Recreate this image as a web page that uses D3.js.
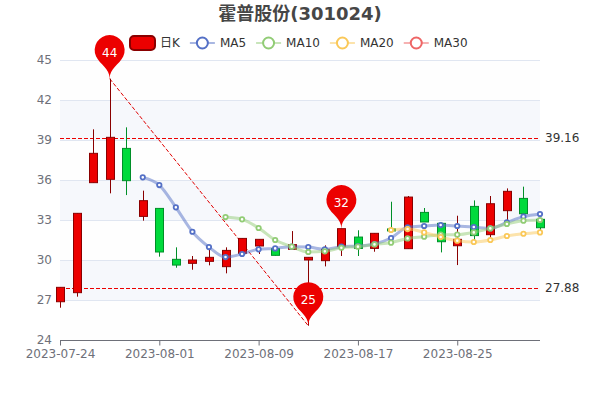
<!DOCTYPE html>
<html>
<head>
<meta charset="utf-8">
<script src="https://cdn.jsdelivr.net/npm/d3@7"></script>
<style>
  html, body { margin: 0; padding: 0; background: #fff; }
  text { font-family: "DejaVu Sans", "Noto Sans CJK SC", sans-serif; }
</style>
</head>
<body>
<div id="chart"></div>
<script>
// data
var dates = ["2023-07-24","2023-07-25","2023-07-26","2023-07-27","2023-07-28","2023-07-31",
  "2023-08-01","2023-08-02","2023-08-03","2023-08-04","2023-08-07","2023-08-08",
  "2023-08-09","2023-08-10","2023-08-11","2023-08-14","2023-08-15","2023-08-16",
  "2023-08-17","2023-08-18","2023-08-21","2023-08-22","2023-08-23","2023-08-24",
  "2023-08-25","2023-08-28","2023-08-29","2023-08-30","2023-08-31","2023-09-01"];
var opens  = [26.87,27.55,35.8,36.05,38.37,33.27,33.87,30.05,29.75,29.9,29.5,30.5,31.05,30.85,30.8,30.0,29.95,31.0,31.72,30.87,32.33,30.85,33.57,32.75,31.07,34.02,31.9,33.7,34.62,33.05];
var closes = [27.95,33.5,38.0,39.2,35.95,34.45,30.6,29.62,30.0,30.2,30.72,31.62,31.55,30.35,31.15,30.2,30.8,32.35,30.87,32.0,32.18,34.72,32.85,31.37,31.55,31.83,34.22,35.15,33.47,32.42];
var lows   = [26.42,27.25,35.8,35.0,34.87,32.95,30.25,29.42,29.27,29.6,29.0,30.5,30.45,30.33,30.8,25.07,29.52,30.3,30.3,30.62,32.15,30.85,32.85,30.57,29.62,31.5,31.62,32.85,33.47,32.25];
var highs  = [27.95,33.5,39.8,43.6,39.95,35.2,33.87,30.95,30.3,30.75,30.95,31.62,31.55,31.0,32.17,30.2,31.1,32.35,32.23,32.0,34.37,34.8,33.9,32.8,33.32,34.47,34.8,35.37,35.5,33.05];

var ma5  = [null,null,null,null,null,36.2,35.62,33.95,32.12,30.97,30.22,30.45,30.8,30.87,31.0,30.97,30.8,31.0,31.05,31.2,31.65,32.45,32.55,32.62,32.55,32.47,32.37,32.82,33.25,33.45];
var ma10 = [null,null,null,null,null,null,null,null,null,null,33.22,33.05,32.4,31.5,31.0,30.6,30.65,30.92,31.0,31.17,31.3,31.62,31.75,31.9,31.9,32.07,32.37,32.7,32.95,33.0];
var ma20 = [null,null,null,null,null,null,null,null,null,null,null,null,null,null,null,null,null,null,null,null,32.25,32.32,32.07,31.72,31.45,31.35,31.5,31.8,31.97,32.07];
var ma30 = dates.map(function() { return null; });

var yTicks = [24,27,30,33,36,39,42,45];
var xTicks = ["2023-07-24","2023-08-01","2023-08-09","2023-08-17","2023-08-25"];
var refLevels = [39.16,27.88];
var pinDates = ["2023-07-27","2023-08-16","2023-08-14"];
var pinValues = [43.6,32.35,25.07];
var pinLabels = ["44","32","25"];
var legendNames = ["日K","MA5","MA10","MA20","MA30"];
var maColors = ["#5470c6","#91cc75","#fac858","#ee6666"];

var width = 600, height = 400;
var margin = {top: 60, right: 60, bottom: 60, left: 60};

var svg = d3.select("#chart").append("svg")
  .attr("width", width)
  .attr("height", height)
  .style("display", "block");

var x = d3.scalePoint().domain(dates).range([margin.left, width - margin.right]);
var y = d3.scaleLinear().domain([24, 45]).range([height - margin.bottom, margin.top]);

// split areas
var bandColors = ["rgba(250,250,250,0.2)", "rgba(210,219,238,0.2)"];
svg.append("g").selectAll("rect")
  .data(yTicks.slice(0, -1))
  .enter().append("rect")
    .attr("x", margin.left)
    .attr("y", function(d, i) { return y(yTicks[i + 1]); })
    .attr("width", width - margin.left - margin.right)
    .attr("height", function(d, i) { return y(d) - y(yTicks[i + 1]); })
    .attr("fill", function(d, i) { return bandColors[i % 2]; });

// split lines
svg.append("g").selectAll("line")
  .data(yTicks.slice(1))
  .enter().append("line")
    .attr("x1", margin.left)
    .attr("x2", width - margin.right)
    .attr("y1", function(d) { return Math.round(y(d)) + 0.5; })
    .attr("y2", function(d) { return Math.round(y(d)) + 0.5; })
    .attr("stroke", "#E0E6F1");

// y axis labels only
var yAxis = svg.append("g")
  .attr("transform", "translate(" + margin.left + ",0)")
  .call(d3.axisLeft(y).tickValues(yTicks).tickSize(0).tickPadding(8));
yAxis.select(".domain").remove();
yAxis.selectAll("text").attr("fill", "#6E7079").style("font-size", "12px");

// x axis
var xAxis = svg.append("g")
  .attr("transform", "translate(0," + (height - margin.bottom + 0.5) + ")")
  .call(d3.axisBottom(x).tickValues(xTicks).tickSize(5).tickPadding(4));
xAxis.select(".domain").attr("stroke", "#6E7079").attr("d", "M" + margin.left + ",0H" + (width - margin.right));
xAxis.selectAll("line").attr("stroke", "#6E7079");
xAxis.selectAll("text").attr("fill", "#6E7079").style("font-size", "12px");

// horizontal reference lines sit behind the candles
svg.append("g").selectAll("line")
  .data(refLevels)
  .enter().append("line")
    .attr("x1", margin.left)
    .attr("x2", width - margin.right)
    .attr("y1", function(d) { return Math.round(y(d)) + 0.5; })
    .attr("y2", function(d) { return Math.round(y(d)) + 0.5; })
    .attr("stroke", "#ec0000")
    .attr("stroke-dasharray", "4,2");

svg.append("g").selectAll("text")
  .data(refLevels)
  .enter().append("text")
    .attr("x", width - margin.right + 5)
    .attr("y", function(d) { return y(d); })
    .attr("dy", "0.35em")
    .attr("fill", "#333")
    .style("font-size", "12px")
    .text(function(d) { return d.toFixed(2); });

// line between highest and lowest
svg.append("line")
  .attr("x1", x(pinDates[0]))
  .attr("y1", y(pinValues[0]))
  .attr("x2", x(pinDates[2]))
  .attr("y2", y(pinValues[2]))
  .attr("stroke", "#e00000")
  .attr("stroke-dasharray", "4,2");

// candles
var candleWidth = 8;
var candles = svg.append("g").selectAll("g")
  .data(dates)
  .enter().append("g");

function isUp(i) { return closes[i] > opens[i]; }

candles.append("line")
  .attr("x1", function(d) { return Math.round(x(d)) + 0.5; })
  .attr("x2", function(d) { return Math.round(x(d)) + 0.5; })
  .attr("y1", function(d, i) { return y(highs[i]); })
  .attr("y2", function(d, i) { return y(lows[i]); })
  .attr("stroke", function(d, i) { return isUp(i) ? "#8A0000" : "#008F28"; });

candles.append("rect")
  .attr("x", function(d) { return Math.round(x(d)) + 0.5 - candleWidth / 2; })
  .attr("y", function(d, i) { return y(Math.max(opens[i], closes[i])); })
  .attr("width", candleWidth)
  .attr("height", function(d, i) { return Math.abs(y(opens[i]) - y(closes[i])); })
  .attr("fill", function(d, i) { return isUp(i) ? "#ec0000" : "#00da3c"; })
  .attr("stroke", function(d, i) { return isUp(i) ? "#8A0000" : "#008F28"; });

// moving averages
var line = d3.line()
  .defined(function(d) { return d !== null; })
  .x(function(d, i) { return x(dates[i]); })
  .y(function(d) { return y(d); })
  .curve(d3.curveMonotoneX);

[ma5, ma10, ma20, ma30].forEach(function(series, s) {
  svg.append("path")
    .attr("d", line(series))
    .attr("fill", "none")
    .attr("stroke", maColors[s])
    .attr("stroke-width", 3)
    .attr("stroke-opacity", 0.5);
  var points = dates.filter(function(d, i) { return series[i] !== null; });
  svg.append("g").selectAll("circle")
    .data(points)
    .enter().append("circle")
      .attr("cx", function(d) { return x(d); })
      .attr("cy", function(d) { return y(series[dates.indexOf(d)]); })
      .attr("r", 2.2)
      .attr("fill", "#fff")
      .attr("stroke", maColors[s])
      .attr("stroke-width", 1.8);
});

// echarts style pin, tip sits on the point
function pinPath(px, py) {
  var size = 50, w = size / 5 * 3, r = w / 2;
  var dy = r * r / (size - r);
  var cy = py - size + r + dy;
  var angle = Math.asin(dy / r);
  var dx = Math.cos(angle) * r;
  var tanX = Math.sin(angle), tanY = Math.cos(angle);
  var cp1 = r * 0.6, cp2 = r * 0.7;
  var p = d3.path();
  p.moveTo(px - dx, cy + dy);
  p.arc(px, cy, r, Math.PI - angle, Math.PI * 2 + angle);
  p.bezierCurveTo(px + dx - tanX * cp1, cy + dy + tanY * cp1, px, py - cp2, px, py);
  p.bezierCurveTo(px, py - cp2, px - dx + tanX * cp1, cy + dy + tanY * cp1, px - dx, cy + dy);
  p.closePath();
  return p.toString();
}

var pins = svg.append("g").selectAll("g")
  .data(pinLabels)
  .enter().append("g");

pins.append("path")
  .attr("d", function(d, i) { return pinPath(x(pinDates[i]), y(pinValues[i])); })
  .attr("fill", "#ec0000");

pins.append("text")
  .attr("x", function(d, i) { return x(pinDates[i]); })
  .attr("y", function(d, i) { return y(pinValues[i]) - 26; })
  .attr("dy", "0.35em")
  .attr("text-anchor", "middle")
  .attr("fill", "#fff")
  .style("font-size", "12px")
  .text(function(d) { return d; });

// title
svg.append("text")
  .attr("x", width / 2)
  .attr("y", 14)
  .attr("dy", "0.35em")
  .attr("text-anchor", "middle")
  .attr("fill", "#464646")
  .style("font-size", "18px")
  .style("font-weight", "bold")
  .text("霍普股份(301024)");

// legend, laid out left to right
var legendX = 130, legendY = 43;
legendNames.forEach(function(name, i) {
  var g = svg.append("g").attr("transform", "translate(" + legendX + "," + legendY + ")");
  if (i === 0) {
    g.append("rect")
      .attr("x", 0)
      .attr("y", -7)
      .attr("width", 25)
      .attr("height", 14)
      .attr("rx", 4)
      .attr("fill", "#ec0000")
      .attr("stroke", "#8A0000")
      .attr("stroke-width", 2);
  } else {
    var c = maColors[i - 1];
    g.append("line")
      .attr("x1", 0).attr("x2", 25)
      .attr("stroke", c)
      .attr("stroke-width", 2)
      .attr("stroke-opacity", 0.5);
    g.append("circle")
      .attr("cx", 12.5)
      .attr("r", 5.5)
      .attr("fill", "#fff")
      .attr("stroke", c)
      .attr("stroke-width", 2);
  }
  var t = g.append("text")
    .attr("x", 30)
    .attr("dy", "0.35em")
    .attr("fill", "#333")
    .style("font-size", "12px")
    .text(name);
  legendX += 30 + t.node().getComputedTextLength() + 10;
});
</script>
</body>
</html>
